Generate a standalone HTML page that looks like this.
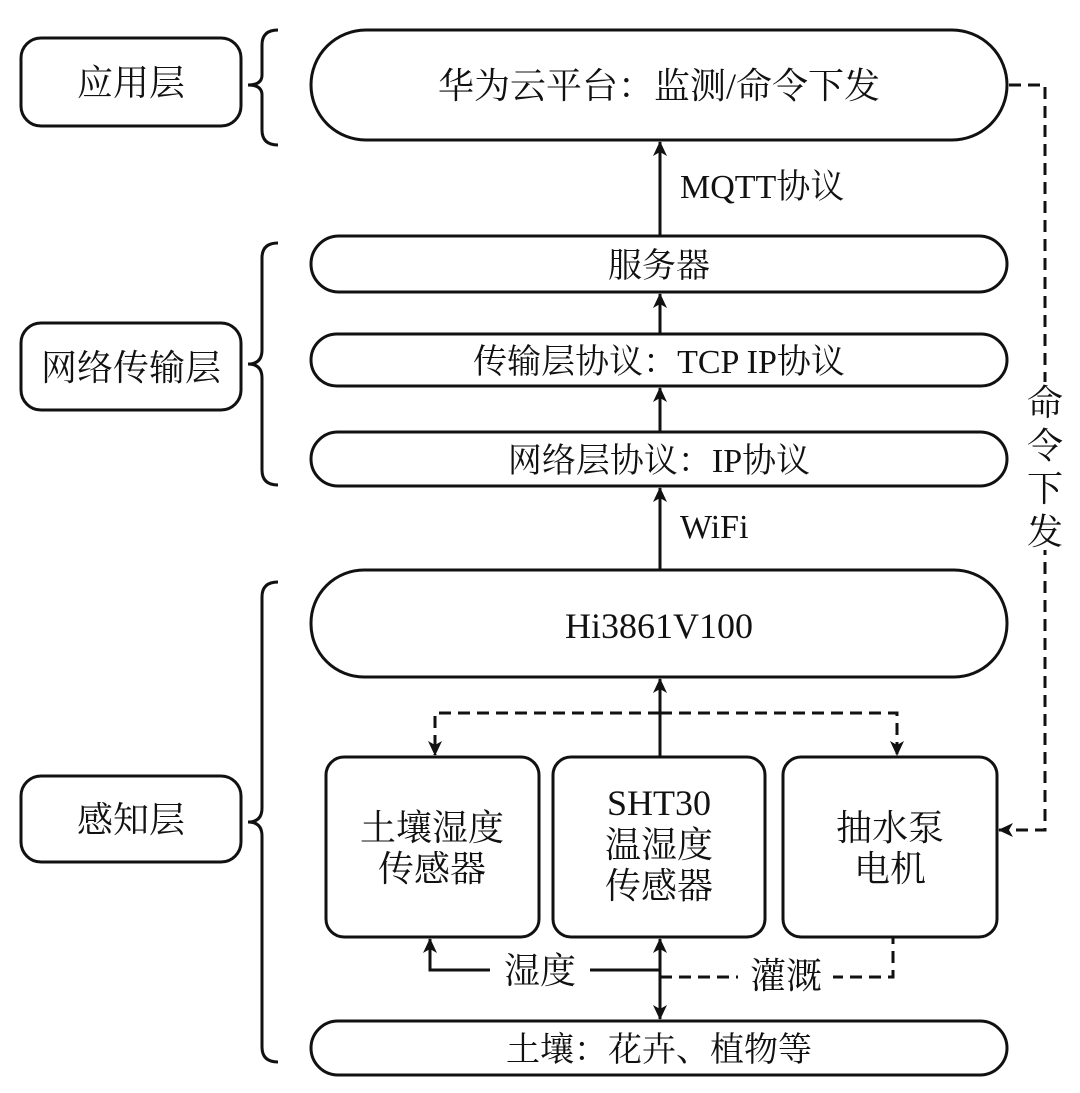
<!DOCTYPE html>
<html><head><meta charset="utf-8"><style>
html,body{margin:0;padding:0;background:#fff;}
svg{display:block;}
text{font-family:"Liberation Serif","Noto Serif CJK SC","Noto Sans CJK SC",serif;fill:#111;}
</style></head><body>
<svg width="1080" height="1093" viewBox="0 0 1080 1093" xmlns="http://www.w3.org/2000/svg">
<defs>
<marker id="a" markerWidth="16" markerHeight="16" refX="14" refY="7" orient="auto" markerUnits="userSpaceOnUse"><path d="M0,0 L15,7 L0,14 L4,7 z" fill="#111"/></marker>
</defs>
<g fill="none" stroke="#111" stroke-width="3">
<rect x="21" y="38" width="220" height="88" rx="20"/>
<rect x="21" y="323" width="220" height="87" rx="20"/>
<rect x="21" y="776" width="220" height="86" rx="20"/>
<path d="M278,30 Q262,30 262,45 L262,75 Q262,85 248,85 Q262,85 262,95 L262,130 Q262,145 278,145"/>
<path d="M278,243 Q262,243 262,258 L262,350 Q262,364 248,364 Q262,364 262,378 L262,470 Q262,485 278,485"/>
<path d="M278,582 Q262,582 262,597 L262,808 Q262,822 248,822 Q262,822 262,836 L262,1047 Q262,1062 278,1062"/>
<rect x="311" y="30" width="696" height="110" rx="55"/>
<rect x="311" y="236" width="696" height="56" rx="28"/>
<rect x="311" y="334" width="696" height="52" rx="26"/>
<rect x="311" y="432" width="696" height="54" rx="27"/>
<rect x="311" y="570" width="696" height="107" rx="53"/>
<rect x="311" y="1021" width="696" height="54" rx="27"/>
<rect x="326" y="757" width="213" height="180" rx="18"/>
<rect x="553" y="757" width="212" height="180" rx="18"/>
<rect x="783" y="757" width="214" height="180" rx="18"/>
<line x1="660" y1="236" x2="660" y2="142" marker-end="url(#a)"/>
<line x1="660" y1="334" x2="660" y2="294" marker-end="url(#a)"/>
<line x1="660" y1="432" x2="660" y2="388" marker-end="url(#a)"/>
<line x1="660" y1="570" x2="660" y2="488" marker-end="url(#a)"/>
<line x1="660" y1="757" x2="660" y2="679" marker-end="url(#a)"/>
<line x1="660" y1="970" x2="660" y2="939" marker-end="url(#a)"/>
<line x1="660" y1="970" x2="660" y2="1019" marker-end="url(#a)"/>
<polyline points="660,970 430,970 430,939" marker-end="url(#a)"/>
<g stroke-dasharray="12,7">
<polyline points="1009,85 1045,85 1045,830 999,830" marker-end="url(#a)"/>
<polyline points="660,713 435,713 435,755" marker-end="url(#a)"/>
<polyline points="660,713 897,713 897,755" marker-end="url(#a)"/>
<polyline points="660,977 893,977 893,937"/>
</g>
</g>
<rect x="490" y="950" width="100" height="40" fill="#fff"/>
<rect x="738" y="955" width="95" height="40" fill="#fff"/>
<rect x="1025" y="382" width="40" height="168" fill="#fff"/>
<g font-size="36" text-anchor="middle">
<text x="131" y="95">应用层</text>
<text x="131" y="380">网络传输层</text>
<text x="131" y="832">感知层</text>
<text x="659" y="98">华为云平台：监测/命令下发</text>
<text x="659" y="277" font-size="34">服务器</text>
<text x="659" y="373" font-size="34">传输层协议：TCP IP协议</text>
<text x="659" y="472" font-size="34">网络层协议：IP协议</text>
<text x="659" y="638">Hi3861V100</text>
<text x="659" y="1061" font-size="34">土壤：花卉、植物等</text>
<text x="432" y="840">土壤湿度</text>
<text x="432" y="881">传感器</text>
<text x="659" y="815">SHT30</text>
<text x="659" y="857">温湿度</text>
<text x="659" y="898">传感器</text>
<text x="890" y="840">抽水泵</text>
<text x="890" y="881">电机</text>
<text x="540" y="983">湿度</text>
<text x="786" y="988">灌溉</text>
<text x="680" y="198" font-size="34" text-anchor="start">MQTT协议</text>
<text x="680" y="538" font-size="34" text-anchor="start">WiFi</text>
<text x="1045" y="415">命</text>
<text x="1045" y="458">令</text>
<text x="1045" y="501">下</text>
<text x="1045" y="544">发</text>
</g>
</svg>
</body></html>
